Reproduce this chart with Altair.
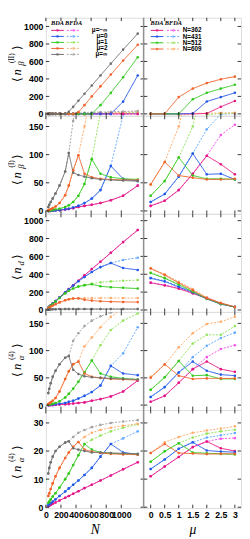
import altair as alt
import pandas as pd

# ---------------- data ----------------
N = [32, 45, 64, 91, 128, 181, 256, 304, 362, 431, 512, 609, 724, 861, 1024, 1218]
MU = [0, 0.5, 1, 1.5, 2, 2.5, 3]
_ = None

# row 1 : <n_beta^(II)>
L1_MAG_BDA = [0, 0, 0, 0, 0, 0, 0, 0, 0, 0, 0, 0, 0, 0, 0, 0]
L1_MAG_BFDA = [0, 0, 0, 0, 0, 0, 0, 0, 0, 0, 0, 0, 0, 0, 0, 0]
L1_BLUE_BDA = [0, 0, 0, 0, 0, 0, 0, 0, 0, 0, 0, 0, 0, 0, 140, 440]
L1_BLUE_BFDA = [_, _, _, _, _, _, _, _, _, _, _, _, _, -600, -3, 8]
L1_GREEN_BDA = [0, 0, 0, 0, 0, 0, 0, 0, 0, 0, 0, 0, 100, 240, 420, 648]
L1_GREEN_BFDA = [_, _, _, _, _, _, _, _, _, _, _, -600, 2, 8, 12, 18]
L1_ORANGE_BDA = [0, 0, 0, 0, 0, 0, 0, 0, 0, 20, 100, 200, 315, 450, 610, 790]
L1_ORANGE_BFDA = [_, _, _, _, _, _, _, _, _, -600, -20, 6, 10, 14, 18, 25]
L1_GRAY_BDA = [0, 0, 0, 0, 0, 0, 0, 25, 80, 150, 230, 325, 440, 575, 735, 918]
L1_GRAY_BFDA = [_, _, _, _, _, _, _, -500, 2, 8, 12, 16, 20, 24, 28, 33]
R1_362_BDA = [0, 0, 0, 0, 5, 81, 148]
R1_362_BFDA = [_, _, _, _, _, -600, -2]
R1_431_BDA = [0, 0, 0, 5, 141, 192, 241]
R1_431_BFDA = [_, _, _, _, -600, -5, 5]
R1_512_BDA = [0, 0, 0, 167, 241, 289, 333]
R1_512_BFDA = [_, _, _, -600, -10, 4, 8]
R1_609_BDA = [0, 0, 192, 289, 352, 397, 426]
R1_609_BFDA = [_, -600, -20, 5, 8, 10, 12]

# row 2 : <n_beta^(I)>
L2_MAG_BDA = [0, 0, 0, 0.5, 1, 1.5, 2.5, 3.5, 5, 7, 9, 11, 14, 19, 27, 45]
L2_MAG_BFDA = [0, 0, 0, 0.5, 1, 1.5, 2.5, 3.5, 5, 7, 9, 11, 14, 19, 27, 45]
L2_BLUE_BDA = [0, 0, 0.3, 0.5, 1, 1.5, 3, 4, 6, 9, 14, 22, 37, 80, 57, 53]
L2_BLUE_BFDA = [0, 0, 0.3, 0.5, 1, 1.5, 3, 4, 6, 9, 14, 22, 37, 80, 170, 300]
L2_GREEN_BDA = [0, 0.5, 1, 1.5, 2.5, 4, 7, 10, 16, 27, 48, 92, 66, 60, 57, 56]
L2_GREEN_BFDA = [0, 0.5, 1, 1.5, 2.5, 4, 7, 10, 16, 27, 48, 92, 175, 260, _, _]
L2_ORANGE_BDA = [1, 2, 3, 5, 8, 14, 28, 45, 72, 99, 66, 60, 57, 56, 55, 55]
L2_ORANGE_BFDA = [1, 2, 3, 5, 8, 14, 28, 45, 72, 99, 150, 220, _, _, _, _]
L2_GRAY_BDA = [7, 11, 16, 22, 31, 45, 70, 103, 68, 64, 61, 58, 56, 55, 54, 53]
L2_GRAY_BFDA = [7, 11, 16, 22, 31, 45, 70, 103, 160, 210, _, _, _, _, _, _]
R2_362_BDA = [9, 18, 37, 66, 98, 83, 65]
R2_362_BFDA = [9, 18, 37, 66, 98, 135, 153]
R2_431_BDA = [16, 30, 61, 102, 65, 66, 56]
R2_431_BFDA = [16, 30, 61, 102, 145, 172, 230]
R2_512_BDA = [27, 53, 95, 63, 57, 57, 56]
R2_512_BFDA = [27, 53, 95, 150, 260, _, _]
R2_609_BDA = [47, 87, 63, 59, 56, 56, 57]
R2_609_BFDA = [47, 87, 150, 250, _, _, _]

# row 3 : <n_d>
L3_MAG_BDA = [25, 35, 50, 71, 99, 140, 198, 234, 277, 328, 388, 458, 540, 640, 760, 895]
L3_MAG_BFDA = [25, 35, 50, 71, 99, 140, 198, 234, 277, 328, 388, 458, 540, 640, 760, 895]
L3_BLUE_BDA = [25, 35, 50, 71, 99, 140, 197, 232, 275, 322, 370, 425, 480, 525, 470, 448]
L3_BLUE_BFDA = [25, 35, 50, 71, 99, 140, 197, 232, 275, 322, 370, 425, 480, 525, 560, 585]
L3_GREEN_BDA = [24, 34, 49, 69, 96, 134, 186, 215, 240, 262, 278, 288, 265, 255, 248, 240]
L3_GREEN_BFDA = [24, 34, 49, 69, 96, 134, 186, 215, 240, 262, 278, 295, 310, 320, 328, 335]
L3_ORANGE_BDA = [20, 28, 38, 50, 65, 85, 108, 120, 128, 130, 115, 105, 98, 93, 90, 88]
L3_ORANGE_BFDA = [20, 28, 38, 50, 65, 85, 108, 120, 128, 130, 132, 133, 134, 134, 134, 134]
L3_GRAY_BDA = [5, 6, 7, 8, 9, 10, 10, 10, 10, 10, 10, 10, 10, 10, 10, 10]
L3_GRAY_BFDA = [5, 6, 7, 8, 9, 10, 10, 10, 10, 10, 10, 10, 10, 10, 10, 10]
R3_362_BDA = [304, 275, 239, 185, 130, 72, 33]
R3_362_BFDA = [308, 280, 246, 194, 138, 78, 35]
R3_431_BDA = [355, 319, 257, 197, 123, 65, 33]
R3_431_BFDA = [360, 326, 266, 206, 131, 71, 35]
R3_512_BDA = [413, 355, 283, 203, 125, 68, 33]
R3_512_BFDA = [420, 363, 293, 214, 134, 74, 35]
R3_609_BDA = [464, 391, 304, 221, 130, 76, 33]
R3_609_BFDA = [470, 400, 315, 235, 140, 80, 35]

# row 4 : <n_alpha^(4)>
L4_MAG_BDA = [0, 0, 0, 0, 0.5, 1, 1.5, 2, 3, 4, 5, 8, 11, 16, 25, 45]
L4_MAG_BFDA = [0, 0, 0, 0, 0.5, 1, 1.5, 2, 3, 4, 5, 8, 11, 16, 25, 45]
L4_BLUE_BDA = [0, 0.2, 0.5, 1, 1.5, 2.5, 4, 6, 8, 12, 17, 24, 36, 72, 58, 55]
L4_BLUE_BFDA = [0, 0.2, 0.5, 1, 1.5, 2.5, 4, 6, 8, 12, 17, 24, 36, 72, 95, 143]
L4_GREEN_BDA = [0.5, 1, 1.5, 2.5, 4, 7, 14, 21, 30, 43, 60, 82, 58, 52, 49, 47]
L4_GREEN_BFDA = [0.5, 1, 1.5, 2.5, 4, 7, 14, 21, 30, 43, 60, 82, 110, 138, 155, 168]
L4_ORANGE_BDA = [2, 3, 5, 8, 13, 25, 48, 62, 75, 80, 58, 52, 50, 48, 47, 46]
L4_ORANGE_BFDA = [2, 3, 5, 8, 13, 25, 48, 62, 75, 80, 108, 124, 143, 162, 178, 190]
L4_GRAY_BDA = [22, 30, 40, 52, 63, 75, 87, 90, 65, 57, 53, 51, 50, 49, 48, 47]
L4_GRAY_BFDA = [22, 30, 40, 52, 63, 75, 87, 90, 118, 132, 145, 155, 163, 170, 176, 182]
R4_362_BDA = [6, 17, 41, 66, 80, 66, 61]
R4_362_BFDA = [6, 17, 41, 66, 88, 103, 110]
R4_431_BDA = [15, 33, 60, 80, 63, 56, 54]
R4_431_BFDA = [15, 33, 60, 88, 109, 123, 133]
R4_512_BDA = [28, 51, 81, 54, 55, 48, 48]
R4_512_BFDA = [28, 51, 81, 113, 129, 129, 145]
R4_609_BDA = [50, 75, 54, 48, 49, 49, 49]
R4_609_BFDA = [52, 74, 106, 132, 149, 153, 162]

# row 5 : <n_alpha^(4)>
L5_MAG_BDA = [0.4, 0.6, 0.8, 1.2, 1.7, 2.4, 3.4, 4, 4.8, 5.7, 6.8, 8, 9.5, 11.3, 13.5, 16]
L5_MAG_BFDA = [0.4, 0.6, 0.8, 1.2, 1.7, 2.4, 3.4, 4, 4.8, 5.7, 6.8, 8, 9.5, 11.3, 13.5, 16]
L5_BLUE_BDA = [0.7, 1, 1.4, 2, 2.8, 4, 5.6, 6.7, 8, 9.5, 11.5, 14, 18, 22.5, 19.5, 18.8]
L5_BLUE_BFDA = [0.7, 1, 1.4, 2, 2.8, 4, 5.6, 6.7, 8, 9.5, 11.5, 14, 18, 22.5, 24.5, 27]
L5_GREEN_BDA = [1.5, 2, 2.8, 3.8, 5, 7, 10, 12, 15, 18.5, 22.5, 20.5, 19.5, 19.2, 19, 18.8]
L5_GREEN_BFDA = [1.5, 2, 2.8, 3.8, 5, 7, 10, 12, 15, 18.5, 22.5, 24, 25.5, 27, 28.3, 29.5]
L5_ORANGE_BDA = [4, 5, 6.5, 8.5, 11, 14, 17.5, 19.5, 21.5, 23.2, 20.5, 19.8, 19.3, 19, 18.8, 18.7]
L5_ORANGE_BFDA = [4, 5, 6.5, 8.5, 11, 14, 17.5, 19.5, 21.5, 23.2, 25, 26.5, 27.5, 28.3, 29, 29.7]
L5_GRAY_BDA = [12, 14, 16, 18, 20, 21.5, 23, 23.5, 21, 20.5, 20, 19.5, 19.5, 19.3, 19.2, 19]
L5_GRAY_BFDA = [12, 14, 16, 18, 20, 21.5, 23, 23.5, 25, 26.5, 27.5, 28.5, 29.3, 30, 30.5, 31]
R5_362_BDA = [11, 14.5, 17.9, 21.4, 23.4, 21, 20]
R5_362_BFDA = [11, 14.5, 17.9, 21.4, 23.4, 24.4, 24.6]
R5_431_BDA = [13.6, 17, 20.8, 23.1, 20.2, 19.8, 19.6]
R5_431_BFDA = [13.6, 17, 20.8, 23.1, 24.8, 25.6, 26.4]
R5_512_BDA = [16.2, 19.9, 22.8, 19.5, 19.2, 19, 18.8]
R5_512_BFDA = [16.2, 19.9, 22.8, 24.8, 26.2, 27, 27.6]
R5_609_BDA = [19.3, 22.5, 19.3, 19.1, 18.9, 19, 19]
R5_609_BFDA = [19.3, 23.1, 25, 26.5, 27.3, 28, 28.8]

LEFT_X_TICKS = [0, 200, 400, 600, 800, 1000]
RIGHT_X_TICKS = [0, 0.5, 1, 1.5, 2, 2.5, 3]
Y_TICKS = [[0, 200, 400, 600, 800, 1000], [0, 50, 100, 150], [0, 200, 400, 600, 800, 1000],
           [0, 50, 100, 150], [0, 10, 20, 30]]
Y_DOMAINS = [[-22, 1100], [-5.2, 169], [-22, 1076], [-9, 171], [-0.3, 34.6]]
LEFT_LEGEND = ["μ=−∞", "μ=0", "μ=1", "μ=2", "μ=∞"]
RIGHT_LEGEND = ["N=362", "N=431", "N=512", "N=609"]

# ---------------- styling ----------------
COL = {
    ("mag", "BDA"): "#e3177f", ("mag", "BFDA"): "#f552e6",
    ("blue", "BDA"): "#2457e8", ("blue", "BFDA"): "#64aaff",
    ("green", "BDA"): "#30c81e", ("green", "BFDA"): "#93e35c",
    ("orange", "BDA"): "#f0622a", ("orange", "BFDA"): "#ffac6c",
    ("gray", "BDA"): "#6e6e6e", ("gray", "BFDA"): "#a3a3a3",
}
LKEYS = ["mag", "blue", "green", "orange", "gray"]
RKEYS = ["mag", "blue", "green", "orange"]
LW, RW, H = 101, 100, 101
LX_DOM = [0, 1300]
RX_DOM = [-0.24, 3.22]
TICK = 3.5
LABEL_FONT = "Liberation Sans"
SERIF = "Liberation Serif"
ONE = pd.DataFrame({"a": [0]})
TITLE_X = -30


def long_df(xs, series):
    rows = []
    for key, kind, vals in series:
        for x, v in zip(xs, vals):
            if v is not None:
                rows.append({"x": x, "y": v, "s": key + "|" + kind, "k": kind})
    return pd.DataFrame(rows)


def txt(text, x, y, size, **kw):
    return alt.Chart(ONE).mark_text(text=text, fontSize=size, **kw).encode(
        x=alt.value(x), y=alt.value(y))


def ytitle(pieces, cy):
    out = []
    for t, dx, dy, size, style in pieces:
        out.append(txt(t, TITLE_X + dx, cy + dy, size, angle=270, align="center",
                       baseline="middle", font=SERIF, fontStyle=style, color="black"))
    return out


def legend_block(keys, labels, x_bda, x_bfda, x_lab, lab_align, y0, dy, hdr):
    out = [txt("BDA", hdr[0], hdr[2], 6.5, font=SERIF, fontStyle="italic", fontWeight="bold",
               baseline="middle", align="center"),
           txt("BFDA", hdr[1], hdr[2], 6.5, font=SERIF, fontStyle="italic", fontWeight="bold",
               baseline="middle", align="center")]
    for i, key in enumerate(keys):
        y = y0 + dy * i
        out.append(alt.Chart(ONE).mark_rule(color=COL[(key, "BDA")], strokeWidth=1).encode(
            x=alt.value(x_bda[0]), x2=alt.value(x_bda[1]), y=alt.value(y)))
        out.append(alt.Chart(ONE).mark_point(color=COL[(key, "BDA")], filled=True, size=8).encode(
            x=alt.value((x_bda[0] + x_bda[1]) / 2), y=alt.value(y)))
        out.append(alt.Chart(ONE).mark_rule(color=COL[(key, "BFDA")], strokeWidth=1,
                                             strokeDash=[2, 1.5]).encode(
            x=alt.value(x_bfda[0]), x2=alt.value(x_bfda[1]), y=alt.value(y)))
        out.append(alt.Chart(ONE).mark_point(color=COL[(key, "BFDA")], filled=True, size=8).encode(
            x=alt.value((x_bfda[0] + x_bfda[1]) / 2), y=alt.value(y)))
        out.append(txt(labels[i], x_lab, y, 6.5, align=lab_align, baseline="middle",
                       font=LABEL_FONT, fontWeight="bold", color="black"))
    return out


def panel(xs, series, xdom, xticks, ydom, yticks, w, show_xlabels, show_ylabels, xtitle, extra,
          divider):
    df = long_df(xs, series)
    sx = alt.Scale(domain=xdom, nice=False, zero=False)
    sy = alt.Scale(domain=ydom, nice=False, zero=False)
    dom = [k + "|" + kd for k, kd, _v in series]
    rng = [COL[(k, kd)] for k, kd, _v in series]
    cenc = alt.Color("s:N", scale=alt.Scale(domain=dom, range=rng), legend=None)
    xkw = dict(values=xticks, labels=show_xlabels, ticks=False, domain=False, grid=False,
               format="~f", labelFont=LABEL_FONT, labelFontWeight="bold", labelFontSize=9,
               labelColor="black", labelPadding=3, labelOverlap=False, labelFlush=False)
    if xtitle:
        xkw.update(titleFont=SERIF, titleFontStyle="italic", titleFontWeight="normal",
                   titleFontSize=14, titlePadding=3, titleColor="black")
    xaxis = alt.Axis(**xkw)
    ykw = dict(values=yticks, labels=show_ylabels, ticks=False, domain=False, grid=False,
               format="~f", labelFont=LABEL_FONT, labelFontWeight="bold",
               labelFontSize=9, labelColor="black", labelPadding=3,
               labelOverlap=False, labelFlush=False)
    yaxis = alt.Axis(**ykw)

    def X(field):
        if xtitle:
            return alt.X(field, type="quantitative", scale=sx, axis=xaxis, title=xtitle)
        return alt.X(field, type="quantitative", scale=sx, axis=xaxis, title=None)

    def Y(field):
        return alt.Y(field, type="quantitative", scale=sy, axis=yaxis, title=None)

    layers = []
    for kind, dash in [("BFDA", [2, 1.5]), ("BDA", [1, 0])]:
        sub = df[df["k"] == kind]
        layers.append(alt.Chart(sub).mark_line(clip=True, strokeWidth=1, strokeDash=dash).encode(
            x=X("x"), y=Y("y"), color=cenc, detail="s:N"))
        layers.append(alt.Chart(sub).mark_point(clip=True, filled=True, size=7, opacity=1).encode(
            x=X("x"), y=Y("y"), color=cenc))
    # inward ticks on all four sides
    ty = pd.DataFrame({"y": yticks})
    tx = pd.DataFrame({"x": xticks})
    for a, b in [(0, TICK), (w - TICK, w)]:
        layers.append(alt.Chart(ty).mark_rule(color="black", strokeWidth=0.8).encode(
            y=Y("y"), x=alt.value(a), x2=alt.value(b)))
    for a, b in [(H - TICK, H), (0, TICK)]:
        layers.append(alt.Chart(tx).mark_rule(color="black", strokeWidth=0.8).encode(
            x=X("x"), y=alt.value(a), y2=alt.value(b)))
    if divider:
        layers.append(alt.Chart(ONE).mark_rule(color="#8a8a8a", strokeWidth=2.2).encode(
            x=alt.value(w), y=alt.value(0), y2=alt.value(H)))
    layers += extra
    return alt.layer(*layers).properties(width=w, height=H)


def left_series(r):
    g = globals()
    out = []
    for kind in ["BFDA", "BDA"]:
        for key in LKEYS:
            out.append((key, kind, g["L%d_%s_%s" % (r, key.upper(), kind)]))
    return out


def right_series(r):
    g = globals()
    out = []
    names = {"mag": "362", "blue": "431", "green": "512", "orange": "609"}
    for kind in ["BFDA", "BDA"]:
        for key in RKEYS:
            out.append((key, kind, g["R%d_%s_%s" % (r, names[key], kind)]))
    return out


# y title pieces: (text, dx, dy, size, style)
TITLES = [
    ([("⟨", 0, 16.7, 12, "normal"), ("n", 0, 9, 13, "italic"), ("β", 4.5, 0, 9, "italic"),
      ("(II)", -4.5, -5.6, 7.5, "normal"), ("⟩", 0, -16.6, 12, "normal")], 47.3),
    ([("⟨", 0, 14, 12, "normal"), ("n", 0, 6.3, 13, "italic"), ("β", 4.5, -2.7, 9, "italic"),
      ("(I)", -4.5, -5.5, 7.5, "normal"), ("⟩", 0, -13, 12, "normal")], 55),
    ([("⟨", 0, 11, 12, "normal"), ("n", 0, 3.5, 13, "italic"), ("d", 4, -4, 9, "italic"),
      ("⟩", 0, -11, 12, "normal")], 55),
    ([("⟨", 0, 15, 12, "normal"), ("n", 0, 7.5, 13, "italic"), ("α", 4.5, -1.5, 9, "italic"),
      ("(4)", -4.5, -4, 7.5, "normal"), ("⟩", 0, -14.5, 12, "normal")], 49),
    ([("⟨", 0, 15, 12, "normal"), ("n", 0, 7.5, 13, "italic"), ("α", 4.5, -1.5, 9, "italic"),
      ("(4)", -4.5, -4, 7.5, "normal"), ("⟩", 0, -14.5, 12, "normal")], 53),
]

charts = []
for r in range(1, 6):
    last = r == 5
    pieces, cy = TITLES[r - 1]
    extra_l = ytitle(pieces, cy)
    extra_r = []
    if r == 1:
        extra_l += legend_block(LKEYS, LEFT_LEGEND, (5.5, 18.5), (21.5, 35.5), 63.5, "right",
                                13, 6.2, (12, 28.5, 5.5))
        extra_r += legend_block(RKEYS, RIGHT_LEGEND, (7, 20), (23.7, 37), 40, "left",
                                13, 6.4, (13.5, 30.3, 5.5))
    left = panel(N, left_series(r), LX_DOM, LEFT_X_TICKS, Y_DOMAINS[r - 1], Y_TICKS[r - 1],
                 LW, last, True, "N" if last else "", extra_l, True)
    right = panel(MU, right_series(r), RX_DOM, RIGHT_X_TICKS, Y_DOMAINS[r - 1], Y_TICKS[r - 1],
                  RW, last, False, "μ" if last else "", extra_r, False)
    charts += [left, right]

chart = alt.concat(*charts, columns=2, spacing=0, bounds="flush").properties(
    padding={"left": 0, "top": 0, "right": 0, "bottom": 0}
).configure_view(stroke="black", strokeWidth=1).configure(background="white")

chart.save("out.html", embed_options={"renderer": "svg", "actions": False})
